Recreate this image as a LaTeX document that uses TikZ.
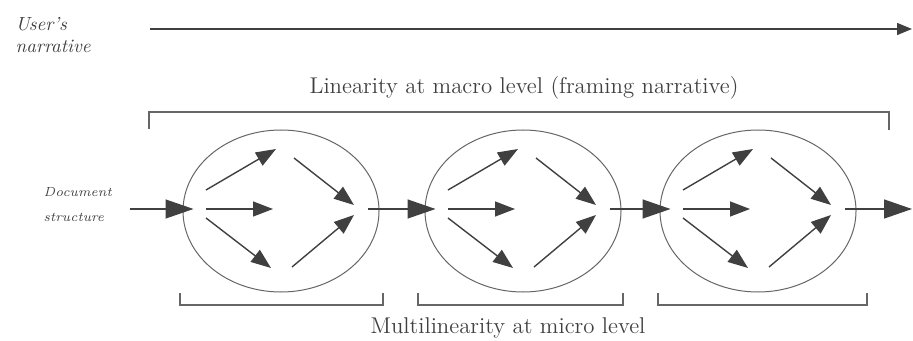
\documentclass[tikz,border=0pt]{standalone}
\usepackage{tikz}
\usetikzlibrary{calc,arrows.meta,shapes.geometric}

\begin{document}
\begin{tikzpicture}[x=0.5pt,y=-0.5pt,line width=0.7pt,draw=black!75,
  tip/.style={-{Triangle[length=10pt,width=7.5pt]}},
  bigtip/.style={-{Triangle[length=14pt,width=9.5pt]}},
  ring/.style={ellipse,draw=black!60,line width=0.5pt,minimum width=98pt,minimum height=81pt,inner sep=0pt},
  brk/.style={draw=black!60,line width=0.6pt},
  lbl/.style={font=\fontsize{11.4}{13}\selectfont,text=black!75},
  side/.style={font=\fontsize{9.5}{11}\selectfont\itshape,align=left,anchor=west,inner sep=0pt,text=black!75},
  doclbl/.style={side,font=\fontsize{6.6}{12.5}\selectfont\itshape}]
  \useasboundingbox (0,0) rectangle (913,341);
  \node[side] (user) at (15,35) {User's\\narrative};
  \node[doclbl] (doc) at (43,205) {Document\\structure};
  \node[lbl] (macro) at (524,88) {Linearity at macro level (framing narrative)};
  \node[lbl] (micro) at (508,328) {Multilinearity at micro level};
  \coordinate (N0) at (150,29);
  \coordinate (N1) at (912,29);
  \draw[-{Triangle[length=7.5pt,width=6pt]}] (N0) -- (N1);
  \draw[brk] (149,129) -- (149,112) -- (889,112) -- (889,130);
  \node[ring] (E1) at (281,211) {};
  \node[ring] (E2) at (523,211) {};
  \node[ring] (E3) at (758,211) {};
  \foreach \i in {1,2,3} {
    \coordinate (I\i) at ($(E\i.west)+(11,-2)$);
    \coordinate (O\i) at ($(E\i.east)+(-12,-2)$);
    \coordinate (A\i) at ($(E\i)+(-75,-21)$);
    \coordinate (B\i) at ($(E\i)+(-5,-62)$);
    \coordinate (C\i) at ($(E\i)+(-75,-2)$);
    \coordinate (D\i) at ($(E\i)+(-8,-2)$);
    \coordinate (F\i) at ($(E\i)+(-75,7)$);
    \coordinate (G\i) at ($(E\i)+(-10,57)$);
    \coordinate (H\i) at ($(E\i)+(13,-53)$);
    \coordinate (K\i) at ($(E\i)+(73,-6)$);
    \coordinate (L\i) at ($(E\i)+(11,56)$);
    \coordinate (M\i) at ($(E\i)+(73,4)$);
    \draw[tip] (A\i) -- (B\i);
    \draw[tip] (C\i) -- (D\i);
    \draw[tip] (F\i) -- (G\i);
    \draw[tip] (H\i) -- (K\i);
    \draw[tip] (L\i) -- (M\i);
  }
  \coordinate (S) at (130,209);
  \coordinate (T) at (912,209);
  \draw[bigtip] (S) -- (I1);
  \draw[bigtip] (O1) -- (I2);
  \draw[bigtip] (O2) -- (I3);
  \draw[bigtip] (O3) -- (T);
  \draw[brk] (180,293) -- (180,305) -- (383,305) -- (383,293);
  \draw[brk] (418,293) -- (418,305) -- (623,305) -- (623,293);
  \draw[brk] (658,293) -- (658,305) -- (867,305) -- (867,293);
\end{tikzpicture}
\end{document}
